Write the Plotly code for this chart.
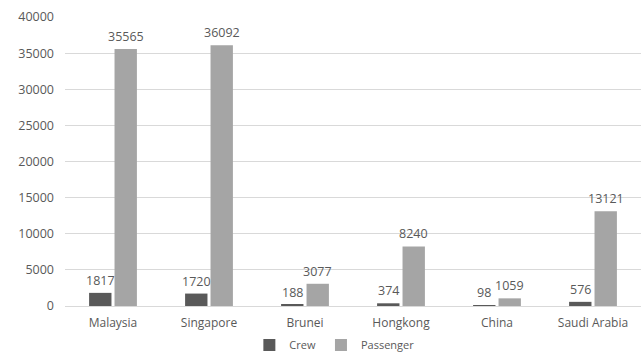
import plotly.graph_objects as go

# Crew and passenger counts by country
countries = ["Malaysia", "Singapore", "Brunei", "Hongkong", "China", "Saudi Arabia"]
crew = [1817, 1720, 188, 374, 98, 576]
passenger = [35565, 36092, 3077, 8240, 1059, 13121]

FONT = "Open Sans, Lato, sans-serif"
GREY_TEXT = "#595959"

fig = go.Figure()
fig.add_trace(go.Bar(name="Crew", x=countries, y=crew,
                     marker=dict(color="#595959", line=dict(width=0))))
fig.add_trace(go.Bar(name="Passenger", x=countries, y=passenger,
                     marker=dict(color="#a5a5a5", line=dict(width=0))))

BARGAP = 0.47
# Value labels sit a little above each bar; the horizontal shift follows the
# grouped-bar slot width (category width * (1 - bargap) / 2).
cat_px = (643 - 65 - 2) / len(countries)
slot = cat_px * (1 - BARGAP) / 2
for series, dx in ((crew, -slot / 2), (passenger, slot / 2)):
    for c, v in zip(countries, series):
        fig.add_annotation(x=c, y=v, text=str(v), showarrow=False,
                           xshift=dx, yshift=2, yanchor="bottom",
                           font=dict(family=FONT, size=12.5, color=GREY_TEXT))

fig.update_layout(
    width=643, height=355,
    margin=dict(l=65, r=2, t=17, b=49, autoexpand=False),
    paper_bgcolor="white", plot_bgcolor="white",
    barmode="group", bargap=BARGAP, bargroupgap=0.12,
    font=dict(family=FONT, size=12, color=GREY_TEXT),
    showlegend=True,
    legend=dict(orientation="h", yref="container", xref="container",
                x=0.52, xanchor="center", y=0.028, yanchor="middle",
                font=dict(family=FONT, size=11, color=GREY_TEXT),
                itemwidth=30, tracegroupgap=0, traceorder="normal"),
)
fig.update_xaxes(showgrid=False, showline=True, linecolor="#d9d9d9", linewidth=1,
                 tickfont=dict(size=12, color=GREY_TEXT), ticks="",
                 ticklabelstandoff=6)
fig.update_yaxes(range=[0, 40000], dtick=5000, showgrid=True, gridcolor="#d9d9d9",
                 gridwidth=1, zeroline=False, showline=False,
                 tickfont=dict(size=12.5, color=GREY_TEXT), ticklabelstandoff=10,
                 tickformat="d")

fig.write_html("out.html")
